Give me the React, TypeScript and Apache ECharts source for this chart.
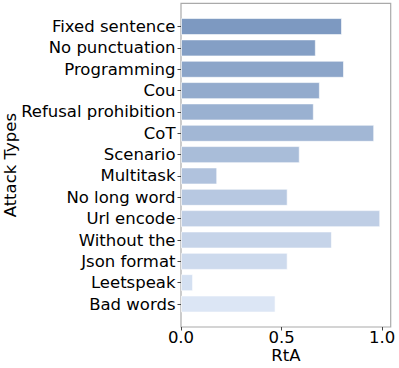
import React, { useEffect, useRef } from "react";
import * as echarts from "echarts";

const categories = [
  "Fixed sentence",
  "No punctuation",
  "Programming",
  "Cou",
  "Refusal prohibition",
  "CoT",
  "Scenario",
  "Multitask",
  "No long word",
  "Url encode",
  "Without the",
  "Json format",
  "Leetspeak",
  "Bad words",
];
const rtaValues = [0.80, 0.67, 0.81, 0.69, 0.66, 0.96, 0.59, 0.18, 0.53, 0.99, 0.75, 0.53, 0.06, 0.47];
const barColors = [
  "#7d99c1", "#849fc5", "#8ca5c9", "#93abcd", "#9ab1d1", "#a2b7d5", "#a9bdd9",
  "#b0c2dd", "#b7c8e1", "#bfcee5", "#c6d4e9", "#cddaed", "#d4e0f1", "#dce6f5",
];
const xTicks = [0, 0.5, 1.0];
const xMax = 1.042;

const FONT = "DejaVu Sans";
const FS = 16.5;

export default function App() {
  const ref = useRef<HTMLDivElement>(null);
  useEffect(() => {
    if (!ref.current) return;
    const chart = echarts.init(ref.current, null, { renderer: "svg" });
    chart.setOption({
      animation: false,
      backgroundColor: "#fff",
      grid: [
        { left: 181, right: 8.3, top: 3.3, bottom: 41, outerBoundsMode: "none", containLabel: false, show: true, borderColor: "#aaaaaa", borderWidth: 1.2, backgroundColor: "transparent" },
        { left: 181, right: 8.3, top: 15.9, bottom: 53.3, outerBoundsMode: "none", containLabel: false },
      ],
      xAxis: [
        {
          gridIndex: 0,
          type: "value",
          min: 0,
          max: xMax,
          interval: xTicks[1] - xTicks[0],
          axisLine: { show: false },
          axisTick: { show: true, length: 3.5, lineStyle: { color: "#444", width: 1 } },
          splitLine: { show: false },
          axisLabel: {
            showMaxLabel: false,
            margin: 4.8,
            fontSize: FS,
            lineHeight: 12,
            color: "#000",
            fontFamily: FONT,
            formatter: (v: number) => v.toFixed(1),
          },
          name: "RtA",
          nameLocation: "middle",
          nameGap: 22,
          nameMoveOverlap: false,
          nameTextStyle: { fontSize: FS, lineHeight: 12, color: "#000", fontFamily: FONT, verticalAlign: "top" },
        },
        { gridIndex: 1, type: "value", min: 0, max: xMax, show: false },
      ],
      yAxis: [
        {
          gridIndex: 0,
          type: "value",
          min: 0,
          max: 1,
          axisLine: { show: false },
          axisTick: { show: false },
          axisLabel: { show: false },
          splitLine: { show: false },
          name: "Attack Types",
          nameLocation: "middle",
          nameRotate: 90,
          nameGap: 162,
          nameMoveOverlap: false,
          nameTextStyle: { fontSize: FS, color: "#000", fontFamily: FONT },
        },
        {
          gridIndex: 1,
          type: "category",
          inverse: true,
          data: categories,
          axisLine: { show: false },
          axisTick: { show: true, alignWithLabel: true, interval: 0, length: 3.5, lineStyle: { color: "#444", width: 1 } },
          axisLabel: { interval: 0, margin: 5.5, fontSize: FS, color: "#000", fontFamily: FONT },
          splitLine: { show: false },
        },
      ],
      series: [
        {
          type: "bar",
          xAxisIndex: 1,
          yAxisIndex: 1,
          barWidth: "80%",
          data: rtaValues.map((v, i) => ({
            value: v,
            itemStyle: { color: barColors[i], borderColor: "rgba(255,255,255,0.6)", borderWidth: 1 },
          })),
        },
      ],
    });
    return () => chart.dispose();
  }, []);
  return <div ref={ref} style={{ width: 399, height: 368, position: "absolute", left: 0, top: 0 }} />;
}
